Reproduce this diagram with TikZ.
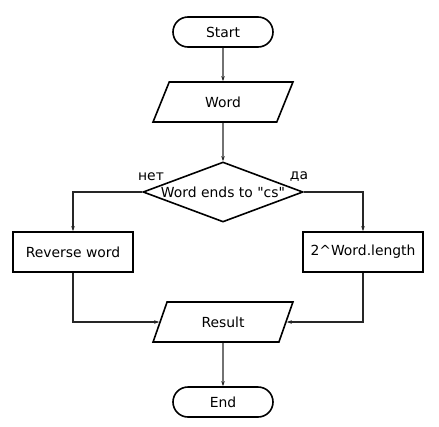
\documentclass[tikz,border=0pt]{standalone}
\usepackage{fontspec}
\setmainfont{DejaVu Sans}[Ligatures=TeXOff]
\usetikzlibrary{shapes.geometric, shapes.misc, arrows.meta}

\begin{document}
\begin{tikzpicture}[x=1pt, y=-1pt, >={Stealth[length=5pt, width=3.5pt]},
		every node/.style={font=\fontsize{13.9}{16}\selectfont},
		bloc/.style={draw, line width=1.6pt, inner sep=0pt},
		terminal/.style={bloc, rounded rectangle, minimum width=100, minimum height=30},
		donnee/.style={bloc, trapezium, trapezium left angle=63.43, trapezium right angle=116.57,
			trapezium stretches=true, minimum width=140, minimum height=40},
		action/.style={bloc, rectangle, minimum width=120, minimum height=40},
		test/.style={bloc, diamond, minimum width=160, minimum height=60},
		fleche/.style={->, line width=1.2pt, black!85}]
		% Cadre
		\useasboundingbox (0,0) rectangle (439,426);

		% Blocs de l'organigramme
		\node[terminal] (start) at (223,32) {Start};
		\node[donnee] (word) at (223,102) {Word};
		\node[test] (cond) at (223,192) {};
		\node (condtxt) at (cond) {Word ends to "cs"};
		\node[action] (rev) at (73,252) {Reverse word};
		\node[action] (pow) at (363,252) {2\^{}Word.length};
		\node[donnee] (res) at (223,322) {Result};
		\node[terminal] (end) at (223,402) {End};

		% Étiquettes des branches
		\node (non) at (151,177) {нет};
		\node (oui) at (299,177) {да};

		% Liaisons
		\draw[fleche] (start) -- (word);
		\draw[fleche] (word) -- (cond);
		\draw[fleche] (cond.west) -| (rev.north);
		\draw[fleche] (cond.east) -| (pow.north);
		\draw[fleche] (rev.south) |- (res.left side);
		\draw[fleche] (pow.south) |- (res.right side);
		\draw[fleche] (res) -- (end);
	\end{tikzpicture}
\end{document}
